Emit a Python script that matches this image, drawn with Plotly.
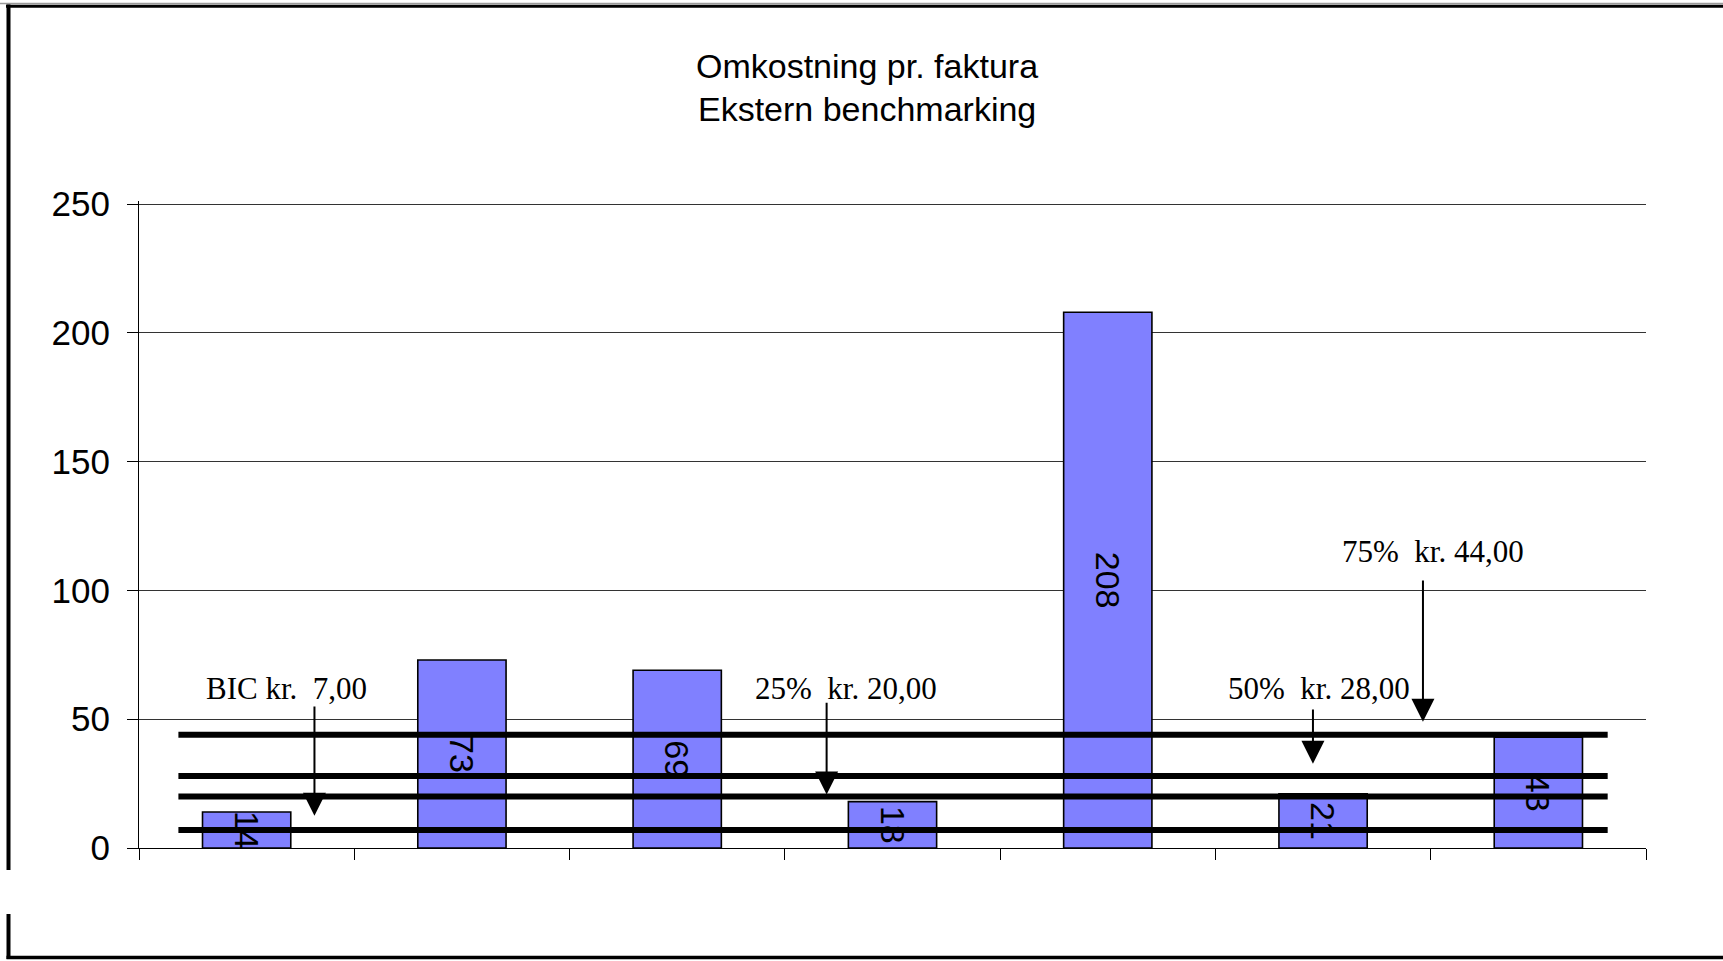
import plotly.graph_objects as go

# Cost per invoice for each participant in the external benchmark (kr.)
values = [14, 73, 69, 18, 208, 21, 43]

# Benchmark levels drawn across the chart
level_names = ["BIC", "25%", "50%", "75%"]
level_values = [7.0, 20.0, 28.0, 44.0]

y_ticks = [0, 50, 100, 150, 200, 250]
title_lines = ["Omkostning pr. faktura", "Ekstern benchmarking"]

# ---------------------------------------------------------------- layout
W, H = 1723, 961
ML, MR, MT, MB = 139, 77, 201, 113
PW, PH = W - ML - MR, H - MT - MB
Y_TOP = 251.2  # a little headroom so the 250 gridline is not clipped

SANS = "Liberation Sans, Arial, sans-serif"
SERIF = "Liberation Serif, Times New Roman, serif"


def px_x(px):
    """Pixel column -> paper fraction."""
    return (px - ML) / PW


def px_y(py):
    """Pixel row (from top) -> paper fraction."""
    return (H - MB - py) / PH


def kr(v):
    return f"{v:.2f}".replace(".", ",")


positions = list(range(len(values)))

fig = go.Figure()
fig.add_trace(go.Bar(
    x=positions,
    y=values,
    width=0.41,
    marker=dict(color="#8080FF", line=dict(color="black", width=1.6)),
    text=[str(v) for v in values],
    textposition="inside",
    insidetextanchor="middle",
    textangle=90,
    constraintext="none",
    textfont=dict(family=SANS, size=34, color="black"),
    hoverinfo="skip",
    showlegend=False,
))

# Captions for the benchmark levels and the arrows pointing at them
caption_prefix = ["BIC kr.\u00a0 ", "25%\u00a0 kr. ", "50%\u00a0 kr. ", "75%\u00a0 kr. "]
caption_x = [0.187, 2.782, 4.98, 5.512]
caption_y = [61.8, 62.1, 62.1, 115.0]
arrow_x = [0.315, 2.694, 4.953, 5.464]
arrow_tail = [55.5, 57.0, 54.4, 104.4]
arrow_gap = [5.5, 0.8, 4.7, 5.0]

shapes = []
annotations = []
for i, lv in enumerate(level_values):
    shapes.append(dict(
        type="line", xref="x", yref="y",
        x0=-0.317, x1=6.322, y0=lv, y1=lv,
        line=dict(color="black", width=6), layer="above",
    ))
    annotations.append(dict(
        xref="x", yref="y", x=caption_x[i], y=caption_y[i],
        text=caption_prefix[i] + kr(lv), showarrow=False,
        xanchor="center", yanchor="middle",
        font=dict(family=SERIF, size=31, color="black"),
    ))
    annotations.append(dict(
        xref="x", yref="y", x=arrow_x[i], y=lv + arrow_gap[i],
        axref="x", ayref="y", ax=arrow_x[i], ay=arrow_tail[i],
        text="", showarrow=True, arrowhead=2, arrowsize=2.3,
        arrowwidth=2, arrowcolor="black", standoff=0, startstandoff=0,
    ))

# Two-line heading
title_centres = [66, 109]
for line, yc in zip(title_lines, title_centres):
    annotations.append(dict(
        xref="paper", yref="paper", x=px_x(867), y=px_y(yc),
        text=line, showarrow=False, xanchor="center", yanchor="middle",
        font=dict(family=SANS, size=34, color="black"),
    ))

# Page frame around the chart (left edge is interrupted near the bottom)
frame = [
    # top edge: thin grey rule above a heavy black one
    (0, 3.6, W, 3.6, "#9a9a9a", 1.5),
    (6, 6.2, W, 6.2, "black", 3),
    # left edge
    (8.5, 4.5, 8.5, 870, "black", 4),
    (8.5, 914, 8.5, 959, "black", 4),
    # bottom edge
    (6.5, 957.5, W, 957.5, "black", 3.5),
]
for x0, y0, x1, y1, col, w in frame:
    shapes.append(dict(
        type="line", xref="paper", yref="paper",
        x0=px_x(x0), x1=px_x(x1), y0=px_y(y0), y1=px_y(y1),
        line=dict(color=col, width=w), layer="above",
    ))

fig.update_layout(
    width=W, height=H,
    margin=dict(l=ML, r=MR, t=MT, b=MB, pad=0),
    paper_bgcolor="white", plot_bgcolor="white",
    bargap=0.59,
    shapes=shapes,
    annotations=annotations,
    showlegend=False,
)

fig.update_xaxes(
    range=[-0.5, len(values) - 0.5],
    tickmode="array",
    tickvals=[p - 0.5 for p in positions] + [len(values) - 0.5],
    ticks="outside", ticklen=11, tickwidth=1, tickcolor="black",
    showticklabels=False,
    showgrid=False, zeroline=False,
    showline=True, linecolor="black", linewidth=1,
    fixedrange=True,
)

fig.update_yaxes(
    range=[0, Y_TOP],
    tickmode="array", tickvals=y_ticks, ticktext=[str(t) for t in y_ticks],
    ticks="outside", ticklen=11, tickwidth=1, tickcolor="black",
    ticklabelstandoff=10,
    tickfont=dict(family=SANS, size=35, color="black"),
    showgrid=True, gridcolor="#333333", gridwidth=1,
    zeroline=False,
    showline=True, linecolor="black", linewidth=1,
    fixedrange=True,
)

fig.write_html("out.html", config={"displayModeBar": False})
